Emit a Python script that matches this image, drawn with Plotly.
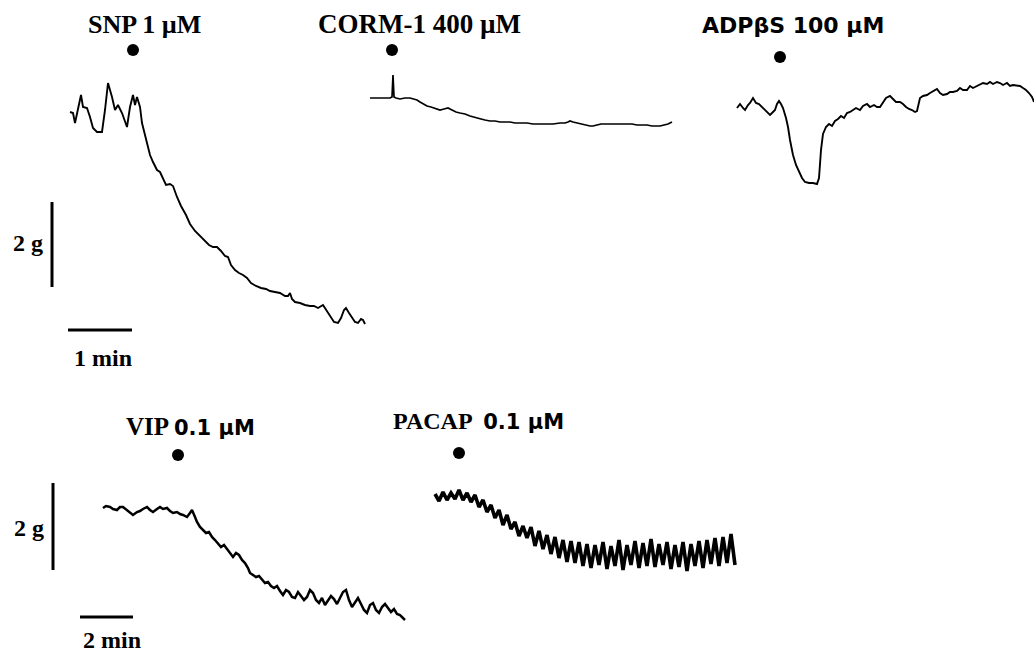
import plotly.graph_objects as go

# ---------------- data (trace recordings; page-pixel units) ----------------
snp_t = [70, 73, 75, 78, 81, 83, 87, 90, 93, 97, 102, 105, 108, 112, 115, 118, 122, 127, 130, 133, 135, 137, 140, 142,
         147, 150, 153, 157, 160, 163, 166, 170, 173, 177, 181, 186, 190, 195, 200, 205, 209, 213, 217, 221, 225, 228,
         231, 235, 239, 243, 247, 251, 256, 261, 266, 270, 275, 280, 285, 288, 290, 292, 295, 300, 305, 310, 314, 318,
         323, 326, 330, 334, 338, 341, 344, 346, 349, 352, 355, 358, 361, 363, 365]
snp_v = [112, 113, 123, 107, 95, 107, 108, 117, 128, 132, 132, 110, 83, 97, 110, 105, 113, 127, 107, 95, 105, 97, 107, 123,
         143, 155, 162, 170, 172, 178, 185, 184, 186, 197, 206, 215, 224, 231, 236, 241, 245, 247, 247, 251, 256, 257,
         265, 270, 273, 275, 278, 283, 286, 288, 289, 291, 292, 293, 296, 296, 293, 299, 302, 303, 305, 306, 306, 308,
         305, 310, 316, 322, 323, 318, 310, 308, 313, 318, 322, 323, 319, 320, 324]

corm_t = [370, 380, 390, 392, 393, 394, 396, 400, 405, 410, 414, 417, 420, 423, 427, 431, 435, 440, 444, 448, 452, 456,
          460, 465, 470, 473, 477, 481, 485, 490, 495, 500, 505, 510, 515, 520, 527, 533, 540, 547, 553, 560, 565, 568,
          570, 573, 577, 582, 587, 590, 593, 597, 601, 605, 610, 615, 620, 627, 632, 637, 642, 647, 652, 656, 660, 664,
          668, 672]
corm_v = [98, 98, 98, 97, 75, 97, 98, 99, 98, 98, 99, 100, 102, 104, 106, 107, 108, 110, 109, 108, 110, 112,
          113, 114, 116, 117, 118, 119, 120, 121, 121, 122, 122, 122, 123, 123, 123, 124, 124, 124, 124, 123, 123, 122,
          121, 122, 123, 124, 125, 126, 126, 125, 124, 124, 124, 124, 124, 124, 124, 125, 125, 125, 126, 126, 126, 125,
          124, 122]

adp_t = [737, 740, 743, 745, 748, 750, 753, 756, 759, 762, 765, 768, 770, 773, 775, 777, 779, 781, 783, 786, 788, 790,
         793, 796, 799, 802, 805, 809, 813, 817, 819, 820, 821, 823, 826, 829, 832, 835, 838, 841, 844, 847, 850, 853,
         856, 860, 863, 867, 870, 874, 877, 880, 883, 886, 890, 893, 896, 900, 903, 906, 909, 912, 915, 917, 919, 920,
         923, 927, 930, 933, 937, 940, 943, 947, 950, 953, 957, 960, 963, 967, 970, 973, 977, 980, 983, 987, 990, 993,
         997, 1000, 1003, 1007, 1010, 1013, 1017, 1020, 1023, 1026, 1029, 1032, 1034]
adp_v = [108, 104, 108, 110, 105, 103, 98, 103, 104, 107, 109, 113, 115, 112, 110, 104, 101, 104, 108, 118, 127, 140,
         155, 165, 172, 178, 182, 183, 183, 184, 178, 165, 150, 134, 127, 124, 126, 121, 119, 116, 118, 113, 112, 110,
         108, 110, 106, 104, 107, 105, 107, 107, 103, 98, 96, 99, 102, 102, 104, 107, 109, 110, 112, 111, 103, 98,
         96, 95, 93, 91, 89, 93, 95, 94, 92, 92, 91, 88, 90, 90, 86, 88, 86, 85, 83, 84, 82, 84,
         82, 83, 85, 83, 86, 85, 86, 86, 88, 90, 93, 97, 102]

vip_t = [103, 106, 110, 113, 117, 120, 123, 127, 130, 133, 137, 140, 143, 147, 150, 153, 157, 160, 163, 167, 170, 173,
         177, 180, 183, 187, 190, 192, 195, 197, 200, 203, 206, 209, 212, 215, 218, 221, 224, 227, 230, 233, 236, 239,
         242, 245, 248, 250, 253, 256, 259, 262, 265, 268, 271, 274, 277, 280, 283, 286, 289, 292, 295, 298, 301, 304,
         307, 310, 313, 316, 319, 322, 325, 328, 331, 334, 337, 340, 343, 346, 349, 352, 355, 358, 361, 364, 367, 370,
         373, 376, 379, 382, 385, 388, 391, 394, 397, 400, 403, 405]
vip_v = [508, 506, 507, 509, 510, 507, 507, 510, 512, 515, 512, 511, 509, 507, 510, 512, 509, 507, 509, 508, 511, 513,
         512, 514, 515, 517, 513, 510, 517, 522, 527, 530, 533, 532, 537, 540, 544, 547, 545, 549, 552, 557, 553, 555,
         560, 563, 568, 573, 575, 577, 576, 580, 583, 582, 586, 588, 586, 591, 595, 590, 592, 597, 598, 592, 596, 600,
         597, 590, 593, 600, 603, 598, 605, 600, 596, 599, 604, 598, 592, 590, 600, 607, 603, 598, 604, 610, 613, 605,
         603, 610, 613, 607, 604, 608, 612, 609, 614, 615, 618, 620]

pacap_t = [435, 439, 443, 447, 451, 455, 459, 463, 467, 471, 475, 479, 483, 487, 491, 495, 499, 503, 507, 511, 515, 519,
           523, 527, 531, 535, 539, 543, 547, 551, 555, 559, 563, 567, 571, 575, 579, 583, 587, 591, 595, 599, 603, 607,
           611, 615, 619, 623, 627, 631, 635, 639, 643, 647, 651, 655, 659, 663, 667, 671, 675, 679, 683, 687, 691, 695,
           699, 703, 707, 711, 715, 719, 723, 727, 731, 735]
pacap_v = [494, 501, 492, 500, 493, 499, 490, 500, 493, 502, 495, 507, 500, 512, 505, 518, 510, 525, 515, 529, 522, 536,
           526, 538, 527, 546, 531, 549, 535, 554, 537, 558, 540, 562, 541, 563, 542, 566, 544, 568, 545, 565, 542, 569,
           546, 566, 540, 570, 545, 565, 541, 568, 543, 566, 539, 567, 544, 565, 542, 569, 545, 567, 542, 571, 544, 566,
           541, 568, 540, 564, 538, 566, 537, 563, 534, 565]

# drug application markers (time of addition)
dot_t = [133, 392, 780, 178, 459]
dot_v = [50, 50, 57, 455, 453]

# scale bars
bar_2g_top = ([52, 52], [202, 287])
bar_1min = ([68, 132], [330, 330])
bar_2g_bottom = ([53, 53], [483, 570])
bar_2min = ([80, 133], [617, 617])

# ---------------- figure ----------------
fig = go.Figure()
INK = "#000000"

def trace(x, y, w):
    fig.add_trace(go.Scatter(x=x, y=y, mode="lines", line=dict(color=INK, width=w),
                             hoverinfo="skip", showlegend=False))

trace(snp_t, snp_v, 1.9)
trace(corm_t, corm_v, 1.7)
trace(adp_t, adp_v, 1.9)
trace(vip_t, vip_v, 2.5)
trace(pacap_t, pacap_v, 3.6)

for bx, by in (bar_2g_top, bar_1min, bar_2g_bottom, bar_2min):
    trace(bx, by, 3)

fig.add_trace(go.Scatter(x=dot_t, y=dot_v, mode="markers",
                         marker=dict(color=INK, size=12), hoverinfo="skip", showlegend=False))

SERIF = "Liberation Serif"
SANS = "DejaVu Sans"

def label(x, y, text, family=SERIF, size=25):
    fig.add_annotation(x=x, y=y, xref="x", yref="y", text=text, showarrow=False,
                       font=dict(family=family, size=size, color=INK), xanchor="center", yanchor="middle")

label(144, 24, "<b>SNP 1 µM</b>", size=26)
label(419, 24, "<b>CORM-1 400 µM</b>", size=27)
label(793, 25, "<b>ADPβS 100 µM</b>", family=SANS, size=22)
label(28, 243, "<b>2 g</b>", size=24)
label(103, 358, "<b>1 min</b>", size=24)
label(190, 426, "<b>VIP <span style='font-family:DejaVu Sans;font-size:21px'>0.1 µM</span></b>", size=25)
label(478, 421, "<b>PACAP  <span style='font-family:DejaVu Sans;font-size:21px'>0.1 µM</span></b>", size=24)
label(29, 528, "<b>2 g</b>", size=24)
label(112, 640, "<b>2 min</b>", size=24)

fig.update_layout(
    width=1034, height=652,
    margin=dict(l=0, r=0, t=0, b=0),
    paper_bgcolor="white", plot_bgcolor="white",
    xaxis=dict(range=[0, 1034], visible=False, fixedrange=True),
    yaxis=dict(range=[652, 0], visible=False, fixedrange=True),
    showlegend=False,
)

fig.write_html("out.html")
